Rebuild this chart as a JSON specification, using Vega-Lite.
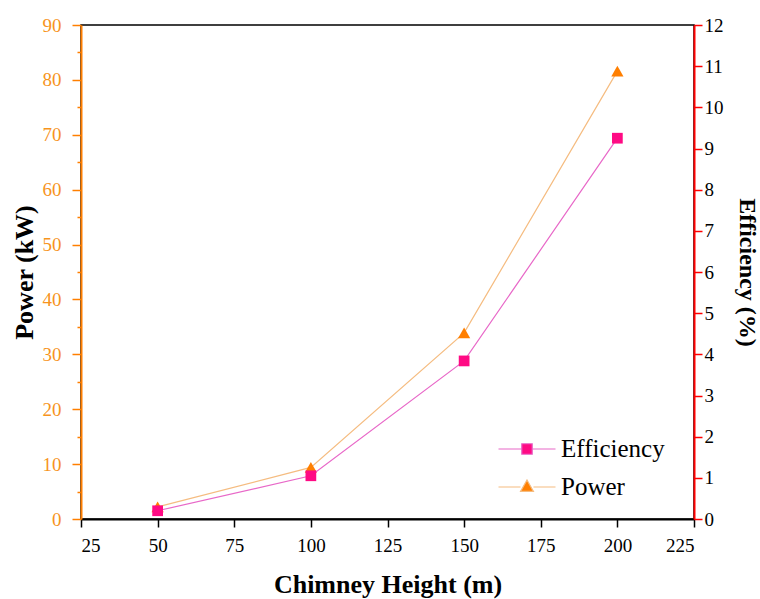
{
  "$schema": "https://vega.github.io/schema/vega-lite/v6.json",
  "width": 613,
  "height": 494,
  "autosize": {"type": "none"},
  "padding": {"left": 81, "top": 25, "right": 66, "bottom": 80},
  "config": {
    "view": {"stroke": "#000000", "strokeWidth": 1.5},
    "font": "Liberation Serif",
    "axis": {"grid": false, "labelFont": "Liberation Serif", "titleFont": "Liberation Serif", "labelOverlap": false}
  },
  "datasets": {
    "main": [
      {"height": 50, "power": 2.2, "eff": 0.2},
      {"height": 100, "power": 9.4, "eff": 1.05},
      {"height": 150, "power": 33.9, "eff": 3.84},
      {"height": 200, "power": 81.6, "eff": 9.25}
    ]
  },
  "layer": [
    {
      "data": {"name": "main"},
      "encoding": {
        "x": {
          "field": "height", "type": "quantitative",
          "scale": {"domain": [25, 225], "nice": false, "zero": false},
          "axis": {
            "values": [25, 37.5, 50, 62.5, 75, 87.5, 100, 112.5, 125, 137.5, 150, 162.5, 175, 187.5, 200, 212.5, 225],
            "labelExpr": "datum.value % 25 === 0 ? datum.label : ''",
            "tickSize": {"condition": {"test": "datum.value % 25 === 0", "value": 8}, "value": 4},
            "title": "Chimney Height (m)",
            "domainColor": "#000000", "domainWidth": 2, "tickColor": "#000000", "tickWidth": 1.5,
            "labelColor": "#000000", "labelFontSize": 19, "labelPadding": 9,
            "titleFontSize": 26, "titleFontWeight": "bold", "titleColor": "#000000", "titlePadding": 16
          }
        },
        "y": {
          "field": "power", "type": "quantitative",
          "scale": {"domain": [0, 90], "nice": false},
          "axis": {
            "orient": "left",
            "values": [0, 5, 10, 15, 20, 25, 30, 35, 40, 45, 50, 55, 60, 65, 70, 75, 80, 85, 90],
            "format": "d",
            "labelExpr": "datum.value % 10 === 0 ? datum.label : ''",
            "tickSize": {"condition": {"test": "datum.value % 10 === 0", "value": 9}, "value": 4},
            "title": "Power (kW)",
            "domainColor": "#FF7F00", "domainWidth": 2, "tickColor": "#FF7F00", "tickWidth": 1.5,
            "labelColor": "#F7941D", "labelFontSize": 19, "labelPadding": 11,
            "titleFontSize": 26, "titleFontWeight": "bold", "titleColor": "#000000", "titlePadding": 5
          }
        }
      },
      "layer": [
        {"mark": {"type": "line", "color": "#F5BC80", "strokeWidth": 1.2}},
        {"mark": {"type": "point", "shape": "triangle-up", "filled": true, "opacity": 1, "color": "#FF7F00", "size": 150}}
      ]
    },
    {
      "data": {"name": "main"},
      "encoding": {
        "x": {"field": "height", "type": "quantitative"},
        "y": {
          "field": "eff", "type": "quantitative",
          "scale": {"domain": [0, 12], "nice": false},
          "axis": {
            "orient": "right",
            "values": [0, 0.5, 1, 1.5, 2, 2.5, 3, 3.5, 4, 4.5, 5, 5.5, 6, 6.5, 7, 7.5, 8, 8.5, 9, 9.5, 10, 10.5, 11, 11.5, 12],
            "format": "d",
            "labelExpr": "datum.value % 1 === 0 ? datum.label : ''",
            "tickSize": 8,
            "encode": {"ticks": {"update": {"x2": {"signal": "datum.value % 1 === 0 ? -8 : -4"}}}},
            "title": "Efficiency (%)",
            "domainColor": "#FF0000", "domainWidth": 2, "tickColor": "#FF0000", "tickWidth": 1.5,
            "labelColor": "#000000", "labelFontSize": 19, "labelPadding": 2,
            "titleFontSize": 24, "titleFontWeight": "bold", "titleColor": "#000000", "titlePadding": 11
          }
        }
      },
      "layer": [
        {"mark": {"type": "line", "color": "#E868C8", "strokeWidth": 1.2}},
        {"mark": {"type": "point", "shape": "square", "filled": true, "opacity": 1, "color": "#FF0A84", "size": 115}}
      ]
    },
    {
      "data": {"values": []},
      "mark": {"type": "point", "filled": true},
      "encoding": {
        "shape": {
          "field": "series", "type": "nominal",
          "scale": {"domain": ["Efficiency", "Power"], "range": ["M-1.9,0H-0.35M0.35,0H1.9M-0.35,-0.35H0.35V0.35H-0.35Z", "M-1.9,0H-0.43M0.43,0H1.9M0,-0.47L0.43,0.29H-0.43Z"]},
          "legend": {"title": null, "orient": "none", "legendX": 430, "legendY": 408, "padding": 0, "symbolSize": 900, "symbolOpacity": 1, "symbolStrokeWidth": 1.2, "labelFont": "Liberation Serif", "labelFontSize": 25, "labelColor": "#000000", "rowPadding": 9, "labelOffset": 18}
        },
        "fill": {
          "field": "series", "type": "nominal",
          "scale": {"domain": ["Efficiency", "Power"], "range": ["#FF0A84", "#FF7F00"]},
          "legend": {"title": null, "orient": "none", "legendX": 430, "legendY": 408, "padding": 0, "symbolSize": 900, "symbolOpacity": 1, "symbolStrokeWidth": 1.2, "labelFont": "Liberation Serif", "labelFontSize": 25, "labelColor": "#000000", "rowPadding": 9, "labelOffset": 18}
        },
        "stroke": {
          "field": "series", "type": "nominal",
          "scale": {"domain": ["Efficiency", "Power"], "range": ["#E868C8", "#F5BC80"]},
          "legend": {"title": null, "orient": "none", "legendX": 430, "legendY": 408, "padding": 0, "symbolSize": 900, "symbolOpacity": 1, "symbolStrokeWidth": 1.2, "labelFont": "Liberation Serif", "labelFontSize": 25, "labelColor": "#000000", "rowPadding": 9, "labelOffset": 18}
        }
      }
    }
  ],
  "resolve": {"scale": {"y": "independent"}}
}
